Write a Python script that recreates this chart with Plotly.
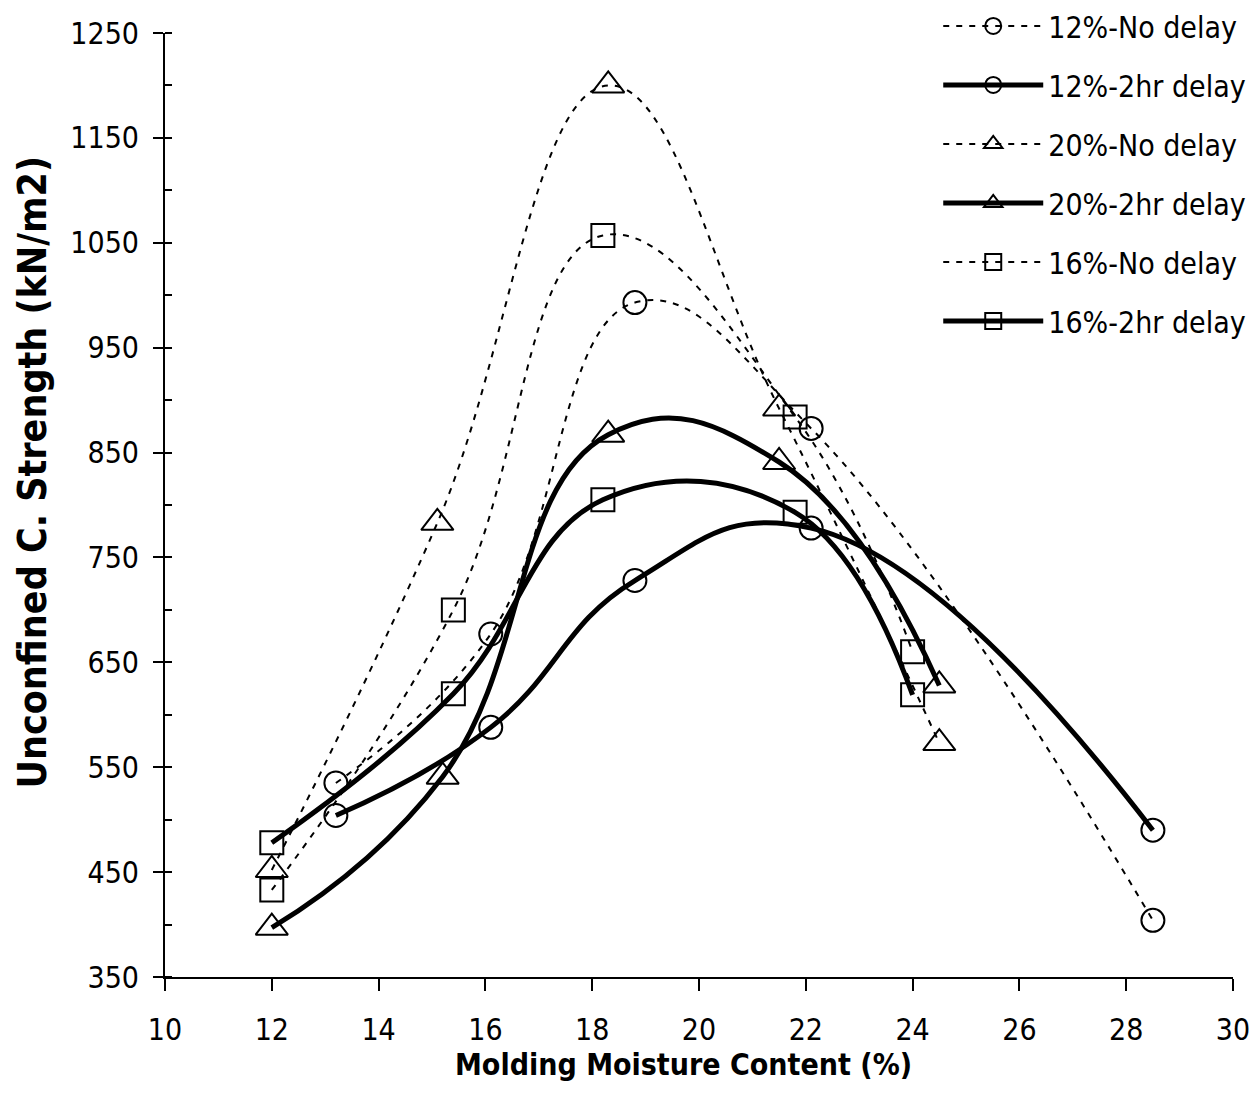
import plotly.graph_objects as go

# ---- data ----
x_12 = [13.2, 16.1, 18.8, 22.1, 28.5]
y_12_nodelay = [535, 677, 993, 873, 404]
y_12_2hr = [504, 588, 728, 778, 490]

x_20_nd = [12.0, 15.1, 18.3, 21.5, 24.5]
y_20_nodelay = [452, 783, 1200, 892, 573]
x_20_2h = [12.0, 15.2, 18.3, 21.5, 24.5]
y_20_2hr = [397, 541, 867, 841, 628]

x_16 = [12.0, 15.4, 18.2, 21.8, 24.0]
y_16_nodelay = [433, 700, 1057, 884, 660]
y_16_2hr = [478, 620, 805, 793, 619]

series = [
    ("12%-No delay", x_12, y_12_nodelay, "circle-open", False),
    ("12%-2hr delay", x_12, y_12_2hr, "circle-open", True),
    ("20%-No delay", x_20_nd, y_20_nodelay, "triangle-up-open", False),
    ("20%-2hr delay", x_20_2h, y_20_2hr, "triangle-up-open", True),
    ("16%-No delay", x_16, y_16_nodelay, "square-open", False),
    ("16%-2hr delay", x_16, y_16_2hr, "square-open", True),
]

x_title = "Molding Moisture Content (%)"
y_title = "Unconfined C. Strength (kN/m2)"

FONT = "Liberation Sans Narrow, Arial Narrow, DejaVu Sans Condensed, sans-serif"

fig = go.Figure()
for name, xs, ys, sym, solid in series:
    size = 28 if sym.startswith("triangle") else 23
    smooth = 1.3 if (solid and not sym.startswith("square")) else 1.2
    fig.add_trace(go.Scatter(
        x=xs, y=ys, name=name, mode="lines+markers", legendgroup=name,
        line=dict(color="black", width=5 if solid else 2,
                  dash="solid" if solid else "6px,7px",
                  shape="spline", smoothing=smooth),
        marker=dict(symbol=sym, size=size, color="black",
                    line=dict(width=2, color="black")),
    ))

# invisible helper trace so the inner major-tick axis is drawn
fig.add_trace(go.Scatter(x=[10], y=[350], yaxis="y2", mode="markers",
                         marker=dict(opacity=0), showlegend=False,
                         hoverinfo="skip"))

fig.update_layout(
    width=1258, height=1116,
    paper_bgcolor="white", plot_bgcolor="white",
    margin=dict(l=157, r=33, t=25, b=147, autoexpand=False),
    font=dict(family=FONT, color="black", size=30),
    showlegend=True,
    legend=dict(x=0.724, y=1.035, xanchor="left", yanchor="top",
                bgcolor="rgba(255,255,255,0)", itemwidth=100,
                tracegroupgap=17, font=dict(size=30, family=FONT),
                itemclick=False),
    xaxis=dict(range=[10, 30], dtick=2, tick0=10, showgrid=False,
               zeroline=False, showline=True, linecolor="black", linewidth=2,
               ticks="outside", ticklen=12, tickwidth=2, tickcolor="black",
               ticklabelstandoff=13, automargin=False,
               tickfont=dict(size=30, family=FONT)),
    yaxis=dict(range=[350, 1250], dtick=100, tick0=350, showgrid=False,
               zeroline=False, showline=True, linecolor="black", linewidth=2,
               ticks="outside", ticklen=10, tickwidth=2, tickcolor="black",
               ticklabelstandoff=8, automargin=False,
               tickfont=dict(size=30, family=FONT),
               minor=dict(dtick=50, tick0=350, ticks="inside", ticklen=7,
                          tickwidth=2, tickcolor="black", showgrid=False)),
    yaxis2=dict(range=[350, 1250], dtick=100, tick0=350, overlaying="y",
                side="left", anchor="x", showgrid=False, zeroline=False,
                showline=False, showticklabels=False, ticks="inside",
                ticklen=7, tickwidth=2, tickcolor="black", automargin=False),
    annotations=[
        dict(text="<b>" + x_title + "</b>", xref="paper", yref="paper",
             x=(683 - 165) / 1068, y=-0.093, xanchor="center", yanchor="middle",
             showarrow=False, font=dict(size=30, family=FONT)),
        dict(text="<b>" + y_title + "</b>", xref="paper", yref="paper",
             x=-0.124, y=0.535, xanchor="center", yanchor="middle",
             textangle=-90, showarrow=False, font=dict(size=39, family=FONT)),
    ],
)

fig.write_html("out.html")
